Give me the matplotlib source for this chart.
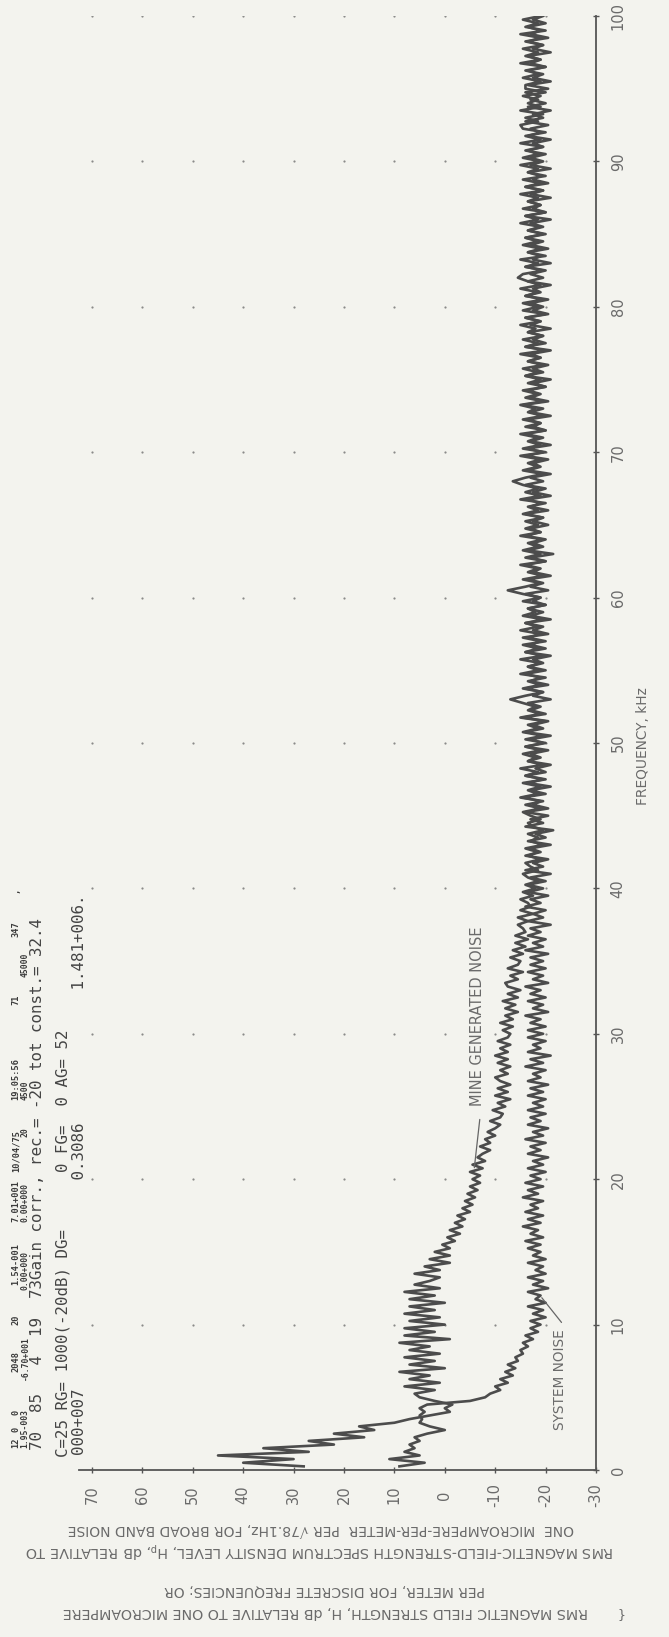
"""Rotated spectrum plot: mine generated noise vs system noise (dB vs kHz)."""

import matplotlib

matplotlib.use("Agg")
import matplotlib.pyplot as plt  # noqa: E402
import numpy as np  # noqa: E402

W, H = 669, 1637
BG = "#f3f3ee"
INK = "#4c4c4c"
LABEL_INK = "#6a6a6a"
NARROW = ["Liberation Sans Narrow", "DejaVu Sans"]
MONO = ["DejaVu Sans Mono"]

# spectrum samples, one every FREQ_STEP_KHZ, starting at 0.25 kHz (20 per 5 kHz row)
FREQ_STEP_KHZ = 0.25

SYSTEM_NOISE_DB = [
    9, 4, 11, 5, 8, 6, 7, 5, 6, 3.5, 0, 3, 5, 4.5, 5, 4, 5, 3.5, -5, -8,
    -9, -11, -10, -12.5, -11, -13.5, -12, -14, -12.5, -14.5, -14, -15.5, -15, -16.5, -15.5, -17.5, -16, -18.5, -17, -19,
    -17, -20, -17.5, -19.5, -16.5, -20, -18, -19, -16.5, -20.5, -17.5, -19.5, -16.5, -20, -18, -19.5, -16.5, -20, -17.5, -19,
    -16.5, -19, -16, -19.5, -17, -18.5, -15.5, -19, -16.5, -19.5, -16, -18.5, -17, -19.5, -15.5, -18.5, -16.5, -19.5, -16, -19,
    -17, -20, -16.5, -19.5, -17.5, -20.5, -16.5, -19, -17, -20, -16, -19.5, -17.5, -20.5, -16.5, -19, -17, -20, -16.5, -19.5,
    -17.5, -20, -16.5, -19.5, -17, -20.5, -16.5, -19, -17.5, -20, -16, -19.5, -17, -21, -16.5, -19, -17.5, -20, -16.5, -19.5,
    -16.5, -20, -17, -19, -16, -20.5, -17.5, -19.5, -16.5, -20, -17, -19, -16, -20.5, -17.5, -19.5, -16.5, -20, -17, -19.5,
    -17, -20.5, -16, -19.5, -17.5, -20, -16.5, -19, -17, -21, -16.5, -19.5, -17.5, -20, -16, -19, -17, -20.5, -16.5, -19.5,
    -16.5, -20, -17, -21, -16, -19.5, -17.5, -20.5, -16, -19, -17, -21, -16.5, -20, -18, -21.5, -16, -19.5, -17, -20.5,
    -16, -20.5, -17.5, -19, -15.5, -20, -17, -21, -16.5, -19.5, -16, -20, -18, -21, -16.5, -19, -17, -20.5, -16, -19.5,
    -17, -21, -16, -19.5, -17.5, -20.5, -15.5, -20, -17, -19, -16.5, -21, -17.5, -19.5, -16, -20.5, -17, -19, -16, -20,
    -16.5, -19.5, -17.5, -21, -16, -20, -17, -19, -15.5, -20.5, -17.5, -19.5, -16, -21, -17, -19.5, -16.5, -20, -17.5, -19,
    -16, -20.5, -17, -19.5, -16.5, -21, -17.5, -19, -16, -20, -17, -21.5, -16.5, -19.5, -17.5, -20, -16, -19, -17, -20.5,
    -17.5, -19.5, -16, -20.5, -17, -19, -16.5, -21, -17.5, -20, -16, -19.5, -17, -21, -16.5, -19, -17.5, -20.5, -16, -19.5,
    -16.5, -21, -17, -19.5, -16, -20, -17.5, -19, -16.5, -21, -17, -19.5, -15.5, -20.5, -17, -19, -16.5, -20, -17.5, -21,
    -16, -19.5, -17.5, -20.5, -16.5, -19, -17, -21, -16, -20, -17.5, -19.5, -16.5, -21, -17, -19, -16, -20.5, -17.5, -19.5,
    -17, -20.5, -16, -19, -17.5, -21, -16.5, -19.5, -17, -20, -16, -21, -17.5, -19, -16.5, -20.5, -17, -19.5, -16, -20,
    -16.5, -19.5, -17, -21, -16, -20, -17.5, -19, -16.5, -21, -17, -19.5, -16, -20.5, -17.5, -19, -16.5, -21, -17, -19.5,
    -17, -20, -16, -19.5, -17.5, -21, -16.5, -19, -17, -20.5, -16, -19.5, -17.5, -21, -16.5, -20, -17, -19, -16, -20.5,
    -16.5, -21, -17.5, -19.5, -16, -20, -17, -19, -16.5, -21, -17.5, -19.5, -16, -20.5, -17, -19, -16.5, -20, -17.5, -19.5,
]

MINE_NOISE_DB = [
    28, 40, 30, 45, 27, 36, 22, 27, 16, 22, 14, 17, 10, 7, 3, -1, 0, -1.5, 2, 5,
    6, 2, 8, 1, 7, 3, 9, 0, 7, 2, 8, 1, 7, 3, 9, -1, 8, 2, 8, 0,
    7, 1, 8, 2, 7, 0, 7, 2, 8, 1, 6, 3, 1, 6, 1, 4, -1, 3, -1, 2,
    -1, 0.5, -2, -0.5, -3, -1, -3.5, -2, -4, -2.5, -5, -3.5, -5.5, -4, -6, -4.5, -6.5, -5, -7, -5.5,
    -7, -5, -7.5, -5.5, -8, -6.5, -7.5, -9, -7, -9, -8, -10, -8.5, -10, -11, -9, -11, -11.5, -9.5, -12,
    -10.5, -13, -10, -12.5, -10.5, -13, -11, -10, -12.5, -11, -13, -10.5, -12.5, -10, -12.5, -11, -13, -10.5, -12.5, -13,
    -11.5, -13.5, -11, -13.5, -12, -14.5, -12, -14, -11.5, -14.5, -12.5, -15, -12.5, -12, -14.5, -13, -15.5, -12.5, -14.5, -15,
    -13, -15.5, -13.5, -16, -14, -16.5, -14, -16, -15.5, -14.5, -16.5, -14.5, -17.5, -15, -17, -16.5, -15, -17.5, -15.5, -18,
    -16, -18.5, -16.5, -15.5, -18.5, -17, -16, -19, -16.5, -18.5, -16, -19.5, -17, -18.5, -16.5, -19.5, -17.5, -16.5, -19, -17,
    -15.5, -19, -16, -19.5, -15, -18.5, -16.5, -19, -15.5, -20, -16, -18.5, -15, -19.5, -16.5, -18, -15.5, -19, -16, -20,
    -16, -19.5, -15.5, -18.5, -16.5, -20, -15, -19, -16.5, -18, -15.5, -13, -16, -19.5, -15.5, -19, -16.5, -20, -15, -18.5,
    -16.5, -19, -15, -19.5, -16, -18.5, -15.5, -20, -16.5, -19, -15, -18.5, -16, -19.5, -15.5, -18, -16.5, -20, -15.5, -19,
    -15.5, -12.5, -16, -19, -15.5, -19.5, -16.5, -18.5, -15, -20, -16, -19, -15.5, -18.5, -16.5, -19.5, -15, -19, -16, -18.5,
    -16, -19.5, -15.5, -18.5, -16.5, -20, -15, -19, -16, -18.5, -15.5, -13.5, -16, -19.5, -15.5, -18.5, -16.5, -19, -15, -20,
    -15.5, -19, -16.5, -18.5, -15, -20, -16, -19, -15.5, -19.5, -16.5, -18, -15, -19.5, -16, -18.5, -15.5, -20, -16.5, -19,
    -16, -18.5, -15.5, -19.5, -16.5, -19, -15, -20, -16, -18.5, -15.5, -19.5, -16.5, -18, -15, -19, -16, -20, -15.5, -18.5,
    -15.5, -19.5, -16, -18.5, -15, -19, -16.5, -14.5, -15.5, -19.5, -16, -18.5, -15, -20, -16.5, -19, -15.5, -18.5, -16, -19.5,
    -16.5, -19, -15, -18.5, -16, -20, -15.5, -19, -16.5, -18.5, -15, -19.5, -16, -19, -15.5, -20, -16.5, -18.5, -15, -19,
    -15.5, -18.5, -16.5, -19.5, -15, -19, -16, -20, -15.5, -15, -18.5, -16, -19.5, -15, -19, -16.5, -18.5, -15.5, -20, -16,
    -16, -19, -15.5, -18.5, -16.5, -20, -15, -19, -16, -18.5, -15.5, -19.5, -16.5, -19, -15, -20, -16, -18.5, -15.5, -19,
]

DB_TICKS = [70, 60, 50, 40, 30, 20, 10, 0, -10, -20, -30]
DB_TICK_LABELS = ["70", "60", "50", "40", "30", "20", "10", "0", "-10", "-20", "-30"]
FREQ_TICKS = [0, 10, 20, 30, 40, 50, 60, 70, 80, 90, 100]
FREQ_TICK_LABELS = ["0", "10", "20", "30", "40", "50", "60", "70", "80", "90", "100"]

Y_AXIS_TITLE = [
    "RMS MAGNETIC FIELD STRENGTH, H, dB RELATIVE TO ONE MICROAMPERE",
    "PER METER, FOR DISCRETE FREQUENCIES; OR",
    r"RMS MAGNETIC-FIELD-STRENGTH SPECTRUM DENSITY LEVEL, H$_\mathregular{p}$, dB RELATIVE TO",
    "ONE  MICROAMPERE-PER-METER  PER \u221a78.1Hz, FOR BROAD BAND NOISE",
]

# printout header, tokens of the two small rows
HEADER_ROW1 = ["12", "0", "0", "2048", "20", "1.54-001", "7.01+001", "10/04/75",
               "19:05:56", "71", "347", ","]
HEADER_ROW2 = ["1.95-003", "-6.70+001", "0.00+000", "0.00+000", "20", "4500", "45000"]
HEADER_ROW3 = "70  85   4  19  73Gain corr., rec.= -20 tot const.= 32.4"
HEADER_ROW4 = "C=25 RG= 1000(-20dB) DG=      0 FG=  0 AG= 52"
HEADER_ROW5 = "000+007" + " " * 22 + "0.3086" + " " * 14 + "1.481+006."

assert len(SYSTEM_NOISE_DB) == 400 and len(MINE_NOISE_DB) == 400
freq_khz = FREQ_STEP_KHZ * np.arange(1, len(SYSTEM_NOISE_DB) + 1)

fig = plt.figure(figsize=(W / 100, H / 100), dpi=100, facecolor=BG)
renderer = fig.canvas.get_renderer()

# axes box in pixels: x 79..596 (dB 72.5..-30), y 16..1470 (100..0 kHz)
ax = fig.add_axes([79.4 / W, (H - 1470) / H, 516.6 / W, 1454 / H])
ax.set_facecolor(BG)
ax.set_xlim(72.5, -30)
ax.set_ylim(0, 100)

for side in ("left", "top"):
    ax.spines[side].set_visible(False)
for side in ("bottom", "right"):
    ax.spines[side].set_color("#555555")
    ax.spines[side].set_linewidth(1.3)

ax.set_xticks(DB_TICKS)
ax.set_yticks(FREQ_TICKS)
ax.tick_params(axis="x", bottom=True, labelbottom=False, direction="inout",
               length=5, width=1, color="#555555")
ax.tick_params(axis="y", left=False, right=True, labelleft=False, labelright=False,
               direction="inout", length=5, width=1, color="#555555")

# dotted plotter grid
gx, gy = np.meshgrid(DB_TICKS[:-1], FREQ_TICKS[1:])
ax.plot(gx.ravel(), gy.ravel(), "o", ms=1.6, color="#8a8a8a", mec="none", zorder=1)

ax.plot(SYSTEM_NOISE_DB, freq_khz, color=INK, lw=1.9, zorder=3)
ax.plot(MINE_NOISE_DB, freq_khz, color=INK, lw=1.9, zorder=3)

for v, lab in zip(DB_TICKS, DB_TICK_LABELS):
    ax.annotate(lab, xy=(v, 0), xycoords=("data", "axes fraction"),
                xytext=(0, -18), textcoords="offset points", rotation=90,
                ha="center", va="center", fontsize=10.5, color=LABEL_INK,
                family=NARROW)
for v, lab in zip(FREQ_TICKS, FREQ_TICK_LABELS):
    ax.annotate(lab, xy=(1, v), xycoords=("axes fraction", "data"),
                xytext=(16, 0), textcoords="offset points", rotation=90,
                ha="center", va="center", fontsize=10.5, color=LABEL_INK,
                family=NARROW)


def place(x, y, s, length=None, rotation=90, ha="center", size=10, **kw):
    """Put text at pixel (x, y); optionally scale font so it spans `length` px."""
    t = fig.text(x / W, 1 - y / H, s, rotation=rotation, rotation_mode="anchor",
                 ha=ha, va="center", fontsize=size, **kw)
    if length:
        bb = t.get_window_extent(renderer)
        cur = bb.width if rotation % 180 == 0 else bb.height
        t.set_fontsize(size * length / cur)
    return t


place(643, 746, "FREQUENCY, kHz", length=118, color=LABEL_INK, family=NARROW)

# y-axis title, upside down because the sheet is turned
place(325, 1612, Y_AXIS_TITLE[0], length=529, rotation=180, color=LABEL_INK, family=NARROW)
place(325, 1590, Y_AXIS_TITLE[1], length=321, rotation=180, color=LABEL_INK, family=NARROW)
place(319, 1550, Y_AXIS_TITLE[2], length=587, rotation=180, color=LABEL_INK, family=NARROW)
place(321, 1529, Y_AXIS_TITLE[3], length=506, rotation=180, color=LABEL_INK, family=NARROW)
place(619, 1613, "{", rotation=180, size=9, color=LABEL_INK, family=NARROW)

# curve labels
place(560, 1380, "SYSTEM NOISE", length=100, color=LABEL_INK, family=NARROW)
ax.annotate("", xy=(-18.9, 12.0), xytext=(-23.5, 10.0),
            arrowprops=dict(arrowstyle="-", color="#666666", lw=0.9))
place(478, 1106, "MINE GENERATED NOISE", length=180, ha="left", color=LABEL_INK,
      family=NARROW)
ax.annotate("", xy=(-5.8, 20.6), xytext=(-7.0, 24.3),
            arrowprops=dict(arrowstyle="-", color="#666666", lw=0.9))

# analyser printout header
row1_y = [1448, 1432, 1415, 1372, 1325, 1285, 1222, 1172, 1100, 1005, 937, 893]
row2_y = [1448, 1380, 1290, 1222, 1137, 1100, 977]
for s, y in zip(HEADER_ROW1, row1_y):
    place(16, y, s, ha="left", size=6.2, color="#3a3a3a", family=MONO, weight="bold")
for s, y in zip(HEADER_ROW2, row2_y):
    place(25, y, s, ha="left", size=5.8, color="#3a3a3a", family=MONO, weight="bold")
place(37, 1450, HEADER_ROW3, length=537, ha="left", color="#444444", family=MONO)
place(63, 1457, HEADER_ROW4, length=427, ha="left", color="#444444", family=MONO)
place(79, 1455, HEADER_ROW5, length=565, ha="left", color="#444444", family=MONO)

fig.savefig("out.png", dpi=100, facecolor=BG)
